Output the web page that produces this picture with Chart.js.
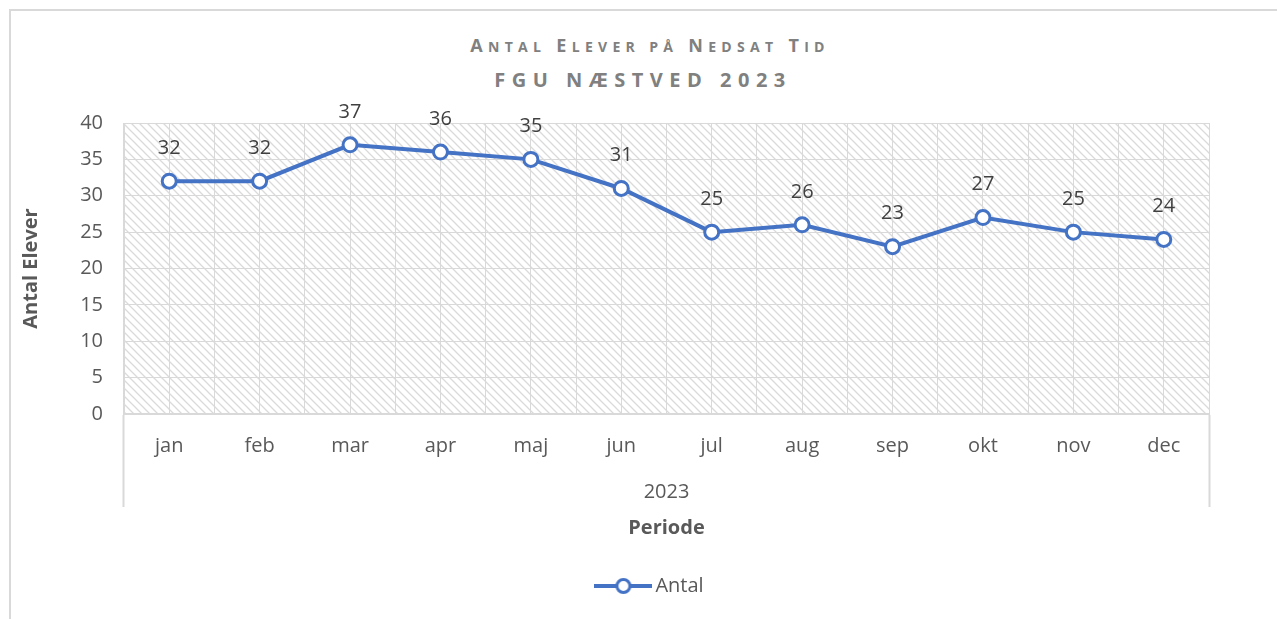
<!DOCTYPE html>
<html>
<head>
<meta charset="utf-8">
<script src="https://cdn.jsdelivr.net/npm/chart.js@4/dist/chart.umd.min.js"></script>
<style>
  html, body { margin: 0; padding: 0; background: #fff; }
  body { width: 1277px; height: 619px; position: relative; overflow: hidden; font-family: 'Open Sans', sans-serif; }
  .frame { position: absolute; left: 9px; top: 9px; width: 1290px; height: 640px; border: 2px solid #d9d9d9; box-sizing: border-box; }
  .title { position: absolute; left: 0; width: 1300px; text-align: center; color: #808080; font-weight: bold; white-space: nowrap; }
  .t1 { top: 33px; font-size: 18px; letter-spacing: 5.3px; }
  .t1 .sm { text-transform: uppercase; font-size: 0.78em; }
  .t2 { top: 66px; left: -7px; font-size: 20px; letter-spacing: 6.5px; }
  canvas { position: absolute; left: 0; top: 0; }
</style>
</head>
<body>
<div class="frame"></div>
<div class="title t1">A<span class="sm">ntal</span> E<span class="sm">lever på</span> N<span class="sm">edsat</span> T<span class="sm">id</span></div>
<div class="title t2">FGU NÆSTVED 2023</div>
<canvas id="c" width="1277" height="619"></canvas>
<script>
/* ─── DATA ───────────────────────────────────────────── */
const MONTHS   = ['jan', 'feb', 'mar', 'apr', 'maj', 'jun', 'jul', 'aug', 'sep', 'okt', 'nov', 'dec']
const ANTAL    = [32, 32, 37, 36, 35, 31, 25, 26, 23, 27, 25, 24]
const Y_TICKS  = { min: 0, max: 40, step: 5 }
const SERIES   = 'Antal'
const YEAR     = '2023'
const X_TITLE  = 'Periode'
const Y_TITLE  = 'Antal Elever'

/* ─── STYLE ──────────────────────────────────────────── */
const BLUE  = '#4472C4'
const TEXT  = '#595959'
const GRID  = '#d9d9d9'
const FONT  = "'Open Sans', sans-serif"
const LEGEND_NUDGE = -14   // legend sits a bit left of the plot centre

// wide downward-diagonal hatch used for the plot area
const hatch = (() => {
  const c = document.createElement('canvas')
  c.width = 8; c.height = 8
  const g = c.getContext('2d')
  g.strokeStyle = '#dadada'
  g.lineWidth = 1.3
  g.beginPath()
  g.moveTo(-2, -2); g.lineTo(10, 10)
  g.moveTo(-2, 6);  g.lineTo(2, 10)
  g.moveTo(6, -2);  g.lineTo(10, 2)
  g.stroke()
  return c
})()

// legend marker: line with hollow circle
const legendMarker = (() => {
  const c = document.createElement('canvas')
  c.width = 58; c.height = 18
  const g = c.getContext('2d')
  g.strokeStyle = BLUE
  g.lineWidth = 4
  g.beginPath(); g.moveTo(0, 9); g.lineTo(58, 9); g.stroke()
  g.fillStyle = '#fff'
  g.lineWidth = 3
  g.beginPath(); g.arc(29, 9, 6.5, 0, Math.PI * 2); g.fill(); g.stroke()
  return c
})()

const plotHatch = {
  id: 'plotHatch',
  afterLayout(chart) {
    chart.legend.left += LEGEND_NUDGE
    chart.legend.right += LEGEND_NUDGE
  },
  beforeDraw(chart) {
    const { ctx, chartArea: a } = chart
    ctx.save()
    ctx.fillStyle = ctx.createPattern(hatch, 'repeat')
    ctx.fillRect(a.left, a.top, a.right - a.left, a.bottom - a.top)
    ctx.restore()
  },
}

const valueLabels = {
  id: 'valueLabels',
  afterDatasetsDraw(chart) {
    const { ctx } = chart
    const meta = chart.getDatasetMeta(0)
    ctx.save()
    ctx.font = `20px ${FONT}`
    ctx.fillStyle = '#404040'
    ctx.textAlign = 'center'
    ctx.textBaseline = 'middle'
    meta.data.forEach((pt, i) => {
      ctx.fillText(String(chart.data.datasets[0].data[i]), pt.x, pt.y - 33)
    })
    ctx.restore()
  },
}

new Chart(document.getElementById('c'), {
  type: 'line',
  data: {
    labels: MONTHS,
    datasets: [{
      label: SERIES,
      data: ANTAL,
      borderColor: BLUE,
      borderWidth: 4,
      pointRadius: 7,
      pointHoverRadius: 7,
      pointBorderWidth: 3,
      pointBackgroundColor: '#fff',
      pointBorderColor: BLUE,
      tension: 0,
      xAxisID: 'x',
      yAxisID: 'y',
    }],
  },
  options: {
    responsive: false,
    animation: false,
    layout: { padding: { top: 123, right: 68, left: 10, bottom: 13 } },
    plugins: {
      title: { display: false },
      tooltip: { enabled: false },
      legend: {
        position: 'bottom',
        fullSize: false,
        labels: {
          color: TEXT,
          font: { family: FONT, size: 20 },
          padding: 10,
          usePointStyle: true,
          pointStyleWidth: 44,
          generateLabels: chart => [{
            text: SERIES,
            pointStyle: legendMarker,
            fillStyle: BLUE,
            strokeStyle: BLUE,
            lineWidth: 0,
            fontColor: TEXT,
            datasetIndex: 0,
          }],
        },
      },
    },
    scales: {
      y: {
        min: Y_TICKS.min,
        max: Y_TICKS.max,
        ticks: { stepSize: Y_TICKS.step, color: TEXT, font: { family: FONT, size: 20 }, padding: 21 },
        grid: { color: GRID, drawTicks: false },
        border: { color: GRID, width: 1 },
        title: { display: true, text: Y_TITLE, color: TEXT, font: { family: FONT, size: 20, weight: 'bold' }, padding: { top: 9, bottom: 0 } },
        afterFit: s => { s.width = 114 },
      },
      x: {
        offset: true,
        ticks: { color: TEXT, font: { family: FONT, size: 20 }, padding: -73, maxRotation: 0 },
        grid: {
          offset: true,
          color: GRID,
          drawTicks: true,
          tickLength: 93,
          // only the outer ends of the category box get the long tick
          tickColor: c => (c.type !== 'tick' || c.index === 0) ? GRID : 'rgba(0,0,0,0)',
          tickWidth: 2,
        },
        border: { color: GRID, width: 2 },
        title: { display: true, text: YEAR, color: TEXT, font: { family: FONT, size: 20 }, padding: { top: 0, bottom: 3 } },
        afterFit: s => { s.height = 93 },
      },
      x2: {
        type: 'category',
        position: 'bottom',
        offset: true,
        ticks: { display: false },
        grid: { offset: false, color: GRID, drawTicks: false },
        border: { display: false },
        title: { display: true, text: X_TITLE, color: TEXT, font: { family: FONT, size: 20, weight: 'bold' }, padding: { top: 0, bottom: 26 } },
        afterFit: s => { s.height = 59 },
      },
    },
  },
  plugins: [plotHatch, valueLabels],
})
</script>
</body>
</html>
